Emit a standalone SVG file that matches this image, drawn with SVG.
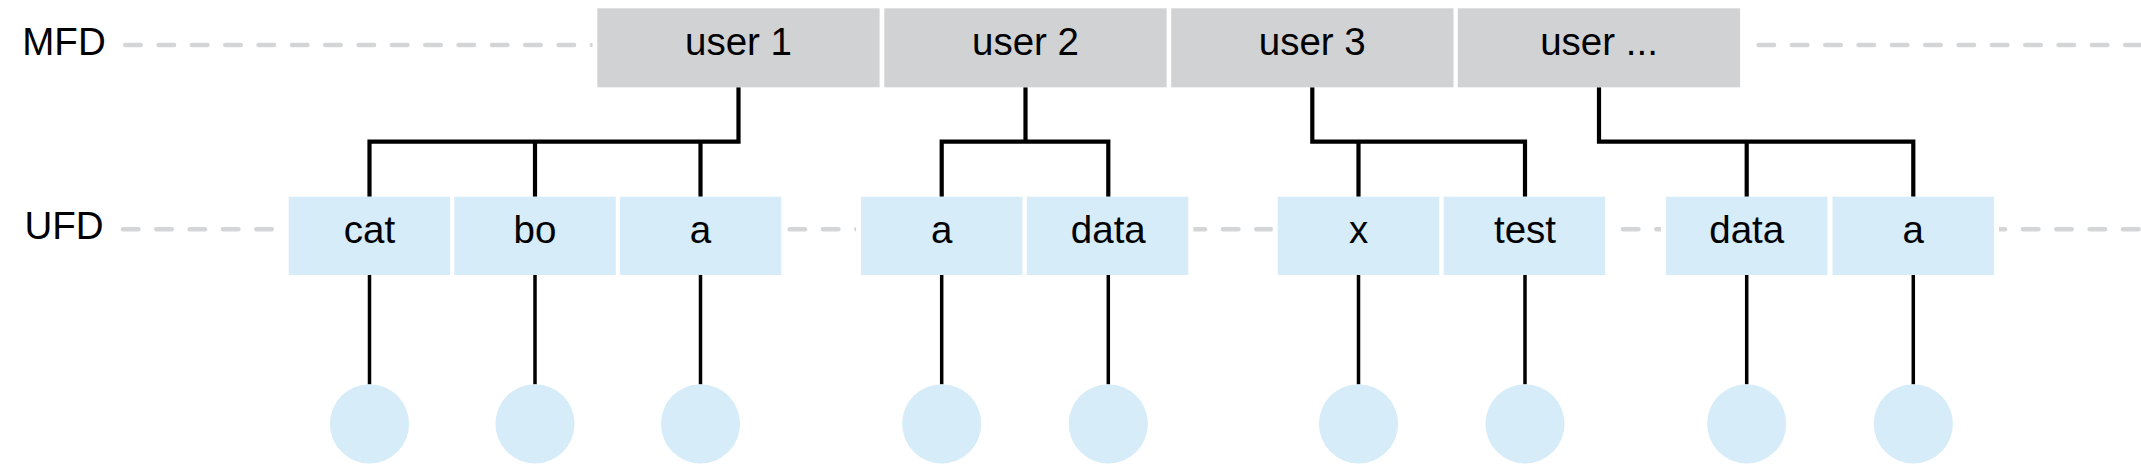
<svg xmlns="http://www.w3.org/2000/svg" width="2141" height="470" viewBox="0 0 2141 470">
<style>
text{font-family:"Liberation Sans",Arial,Helvetica,sans-serif;font-size:38.5px;fill:#000;text-anchor:middle}
.dash{fill:none;stroke:#d4d5d7;stroke-width:4.5;stroke-linecap:round;stroke-dasharray:15.5 17.833}
.knock{fill:#fff}
.mfd{fill:#d1d2d4}
.ufd{fill:#d6ecf9}
.leaf{fill:#d6ecf9}
.conn{fill:none;stroke:#000;stroke-width:4.2;stroke-linejoin:miter;stroke-linecap:butt}
.link{fill:none;stroke:#000;stroke-width:3.5}
</style>
<rect width="2141" height="470" fill="#fff"/>
<g id="level-labels">
<text x="64" y="55">MFD</text>
<text x="64" y="239.3">UFD</text>
</g>
<g id="guides">
<line class="dash" x1="125.25" y1="45" x2="2160" y2="45"/>
<line class="dash" x1="122.95" y1="229.3" x2="2160" y2="229.3"/>
<rect class="knock" x="592.5" y="30" width="1152.5" height="30"/>
<rect class="knock" x="283.7" y="214" width="502.6" height="30"/>
<rect class="knock" x="856" y="214" width="337.3" height="30"/>
<rect class="knock" x="1272.7" y="214" width="337.5" height="30"/>
<rect class="knock" x="1661" y="214" width="338" height="30"/>
</g>
<g id="connectors">
<path class="conn" d="M738.5 87.3V141.7H369.5V196.7M535 141.7V196.7M700.5 141.7V196.7"/>
<path class="conn" d="M1025.5 87.3V141.7M941.7 196.7V141.7H1108.3V196.7"/>
<path class="conn" d="M1312.3 87.3V141.7H1525V196.7M1358.5 141.7V196.7"/>
<path class="conn" d="M1599 87.3V141.7H1913.3V196.7M1746.7 141.7V196.7"/>
<path class="link" d="M369.5 275V384.5M535 275V384.5M700.5 275V384.5M941.7 275V384.5M1108.3 275V384.5M1358.5 275V384.5M1525 275V384.5M1746.7 275V384.5M1913.3 275V384.5"/>
</g>
<g id="mfd-user1"><rect class="mfd" x="597.3" y="8.3" width="282.3" height="79"/><text x="738.5" y="55">user 1</text></g>
<g id="mfd-user2"><rect class="mfd" x="884.3" y="8.3" width="282.3" height="79"/><text x="1025.5" y="55">user 2</text></g>
<g id="mfd-user3"><rect class="mfd" x="1171.2" y="8.3" width="282.3" height="79"/><text x="1312.3" y="55">user 3</text></g>
<g id="mfd-user4"><rect class="mfd" x="1457.8" y="8.3" width="282.3" height="79"/><text x="1599" y="55">user ...</text></g>
<g id="ufd-u1-cat"><rect class="ufd" x="288.7" y="196.7" width="161.5" height="78.3"/><text x="369.5" y="243.3">cat</text></g>
<g id="ufd-u1-bo"><rect class="ufd" x="454.3" y="196.7" width="161.5" height="78.3"/><text x="535" y="243.3">bo</text></g>
<g id="ufd-u1-a"><rect class="ufd" x="619.8" y="196.7" width="161.5" height="78.3"/><text x="700.5" y="243.3">a</text></g>
<g id="ufd-u2-a"><rect class="ufd" x="861" y="196.7" width="161.5" height="78.3"/><text x="941.7" y="243.3">a</text></g>
<g id="ufd-u2-data"><rect class="ufd" x="1026.8" y="196.7" width="161.5" height="78.3"/><text x="1108.3" y="243.3">data</text></g>
<g id="ufd-u3-x"><rect class="ufd" x="1277.7" y="196.7" width="161.5" height="78.3"/><text x="1358.5" y="243.3">x</text></g>
<g id="ufd-u3-test"><rect class="ufd" x="1443.7" y="196.7" width="161.5" height="78.3"/><text x="1525" y="243.3">test</text></g>
<g id="ufd-u4-data"><rect class="ufd" x="1666" y="196.7" width="161.5" height="78.3"/><text x="1746.7" y="243.3">data</text></g>
<g id="ufd-u4-a"><rect class="ufd" x="1832.5" y="196.7" width="161.5" height="78.3"/><text x="1913.3" y="243.3">a</text></g>
<g id="leaf-1"><circle class="leaf" cx="369.5" cy="423.8" r="39.6"/></g>
<g id="leaf-2"><circle class="leaf" cx="535" cy="423.8" r="39.6"/></g>
<g id="leaf-3"><circle class="leaf" cx="700.5" cy="423.8" r="39.6"/></g>
<g id="leaf-4"><circle class="leaf" cx="941.7" cy="423.8" r="39.6"/></g>
<g id="leaf-5"><circle class="leaf" cx="1108.3" cy="423.8" r="39.6"/></g>
<g id="leaf-6"><circle class="leaf" cx="1358.5" cy="423.8" r="39.6"/></g>
<g id="leaf-7"><circle class="leaf" cx="1525" cy="423.8" r="39.6"/></g>
<g id="leaf-8"><circle class="leaf" cx="1746.7" cy="423.8" r="39.6"/></g>
<g id="leaf-9"><circle class="leaf" cx="1913.3" cy="423.8" r="39.6"/></g>
</svg>
